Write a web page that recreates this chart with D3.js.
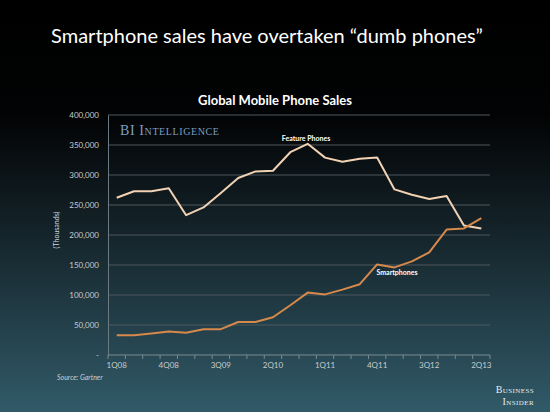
<!DOCTYPE html>
<html><head><meta charset="utf-8">
<script src="https://cdn.jsdelivr.net/npm/d3@7"></script>
<style>body{margin:0;background:#000;} svg{display:block;}</style>
</head><body>
<script>
const quarters = ["1Q08","2Q08","3Q08","4Q08","1Q09","2Q09","3Q09","4Q09","1Q10","2Q10","3Q10","4Q10","1Q11","2Q11","3Q11","4Q11","1Q12","2Q12","3Q12","4Q12","1Q13","2Q13"];
const featurePhones = [262000,273000,273000,278000,233000,246000,270000,295000,306000,307000,338000,352000,329000,322000,327000,329000,276000,267000,260000,265000,216000,211000];
const smartphones = [33000,33000,36000,39000,37000,43000,43000,55000,55000,63000,83000,104000,101000,109000,118000,151000,146000,156000,171000,209000,211000,228000];
const yTicks = [0,50000,100000,150000,200000,250000,300000,350000,400000];
const xLabels = ["1Q08","4Q08","3Q09","2Q10","1Q11","4Q11","3Q12","2Q13"];

const W=550,H=412;
const svg=d3.select("body").append("svg").attr("width",W).attr("height",H);
const defs=svg.append("defs");
const g=defs.append("linearGradient").attr("id","bg").attr("x1",0).attr("y1",0).attr("x2",0).attr("y2",1);
g.append("stop").attr("offset","0%").attr("stop-color","#000000");
g.append("stop").attr("offset","28%").attr("stop-color","#020304");
g.append("stop").attr("offset","60%").attr("stop-color","#17282f");
g.append("stop").attr("offset","100%").attr("stop-color","#315a68");
svg.append("rect").attr("width",W).attr("height",H).attr("fill","url(#bg)");

svg.append("text").attr("x",267).attr("y",43).attr("text-anchor","middle")
  .attr("font-family","Lato, 'Open Sans', sans-serif").attr("font-size",20).attr("fill","#fff")
  .text("Smartphone sales have overtaken \u201cdumb phones\u201d");
svg.append("text").attr("x",275).attr("y",105).attr("text-anchor","middle")
  .attr("font-family","Lato, 'Open Sans', sans-serif").attr("font-weight","bold").attr("font-size",13).attr("fill","#fff")
  .text("Global Mobile Phone Sales");

const x=d3.scaleBand().domain(quarters).range([108,490]);
const y=d3.scaleLinear().domain([0,400000]).range([355,115]);

svg.append("g").selectAll("line").data(yTicks.filter(d=>d>0)).join("line")
  .attr("x1",108).attr("x2",490).attr("y1",d=>y(d)).attr("y2",d=>y(d))
  .attr("stroke","#4d585c").attr("stroke-width",1);

const yAxis=d3.axisLeft(y).tickValues(yTicks).tickSize(0).tickPadding(9)
  .tickFormat(d=>d===0?"-":d3.format(",")(d));
const ya=svg.append("g").attr("transform","translate(108,0)").call(yAxis);
ya.select(".domain").attr("stroke","#6b7a80");
ya.selectAll("text").attr("font-family","Lato, 'Open Sans', sans-serif").attr("font-size",8).attr("fill","#c8ccce");

const xa=svg.append("g").attr("transform","translate(0,355)");
xa.append("line").attr("x1",108).attr("x2",490).attr("stroke","#7a8a90");
xa.selectAll("line.tk").data(quarters.concat(["end"])).join("line").attr("class","tk")
  .attr("x1",(d,i)=>108+i*x.step()).attr("x2",(d,i)=>108+i*x.step())
  .attr("y1",0).attr("y2",4).attr("stroke","#7a8a90");
xa.selectAll("text").data(xLabels).join("text")
  .attr("x",d=>x(d)+x.bandwidth()/2).attr("y",13).attr("text-anchor","middle")
  .attr("font-family","Lato, 'Open Sans', sans-serif").attr("font-size",8).attr("fill","#c8ccce").text(d=>d);

svg.append("text").attr("transform","translate(59,230) rotate(-90)").attr("text-anchor","middle")
  .attr("font-family","Lato, 'Open Sans', sans-serif").attr("font-size",7).attr("fill","#d0d4d6").text("(Thousands)");

svg.append("text").attr("x",120).attr("y",135)
  .attr("font-family","'Liberation Serif', 'DejaVu Serif', serif").attr("font-size",14).attr("fill","#7d9ec2")
  .attr("letter-spacing",0.6).style("font-variant","small-caps").text("BI Intelligence");

const line=d3.line().x((d,i)=>x(quarters[i])+x.bandwidth()/2).y(d=>y(d));
svg.append("path").datum(featurePhones).attr("d",line).attr("fill","none")
  .attr("stroke","#f2d2b4").attr("stroke-width",2).attr("stroke-linejoin","round");
svg.append("path").datum(smartphones).attr("d",line).attr("fill","none")
  .attr("stroke","#d6894b").attr("stroke-width",2).attr("stroke-linejoin","round");

svg.append("text").attr("x",306).attr("y",141).attr("text-anchor","middle")
  .attr("font-family","Lato, 'Open Sans', sans-serif").attr("font-weight","bold").attr("font-size",7).attr("fill","#fff").text("Feature Phones");
svg.append("text").attr("x",397).attr("y",275).attr("text-anchor","middle")
  .attr("font-family","Lato, 'Open Sans', sans-serif").attr("font-weight","bold").attr("font-size",7).attr("fill","#fff").text("Smartphones");

svg.append("text").attr("x",57).attr("y",380)
  .attr("font-family","Lato, 'Open Sans', sans-serif").attr("font-style","italic").attr("font-size",7).attr("fill","#c8d0d4").text("Source: Gartner");

const bi=svg.append("g").attr("font-family","'Liberation Serif', 'DejaVu Serif', serif").attr("fill","#e8ecee").attr("font-size",10).attr("text-anchor","end").style("font-variant","small-caps").attr("letter-spacing",0.4);
bi.append("text").attr("x",534).attr("y",393).text("Business");
bi.append("text").attr("x",534).attr("y",405).text("Insider");
</script>
</body></html>
